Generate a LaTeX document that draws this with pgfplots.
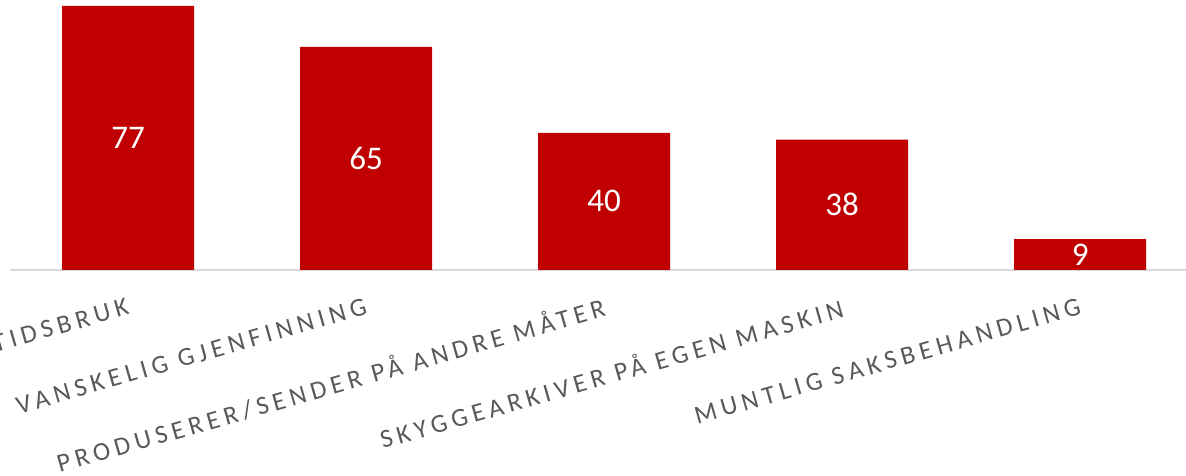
\documentclass[border=0pt]{standalone}
\usepackage{pgfplots}
\pgfplotsset{compat=1.18}
\usepackage{fontspec}
\setmainfont{Carlito}
\newfontfamily\lblfont[LetterSpace=19]{Carlito}
\definecolor{barred}{HTML}{C00000}
\definecolor{txtgrey}{HTML}{595959}
\definecolor{axgrey}{HTML}{D9D9D9}
\begin{document}
\begin{tikzpicture}
\useasboundingbox (0,0) rectangle (1186pt,476pt);
\clip (0,0) rectangle (1186pt,476pt);
\begin{axis}[
  at={(10pt,206pt)}, anchor=south west,
  scale only axis, width=1176pt, height=270pt,
  xmin=-0.496, xmax=4.445, ymin=0, ymax=78.7,
  axis y line=none,
  axis x line*=bottom,
  x axis line style={draw=axgrey, line width=1.5pt, -},
  xtick={0,1,2,3,4},
  xticklabels={TIDSBRUK, VANSKELIG GJENFINNING, PRODUSERER/SENDER PÅ ANDRE MÅTER, SKYGGEARKIVER PÅ EGEN MASKIN, MUNTLIG SAKSBEHANDLING},
  major tick length=0pt,
  xticklabel style={anchor=east, rotate=16, font=\lblfont\fontsize{26}{30}\selectfont, text=txtgrey, inner sep=0pt},
  xticklabel shift=36pt,
  clip=false,
]
\addplot[ybar, bar width=132pt, fill=barred, draw=none] coordinates {(0,77) (1,65) (2,40) (3,38) (4,9)};
\addplot[draw=none, mark=none, nodes near coords, point meta=explicit symbolic,
  every node near coord/.append style={anchor=center, text=white, font=\fontsize{33}{36}\selectfont}]
  coordinates {(0,38.5)[77] (1,32.5)[65] (2,20)[40] (3,19)[38] (4,4.5)[9]};
\end{axis}
\end{tikzpicture}
\end{document}
